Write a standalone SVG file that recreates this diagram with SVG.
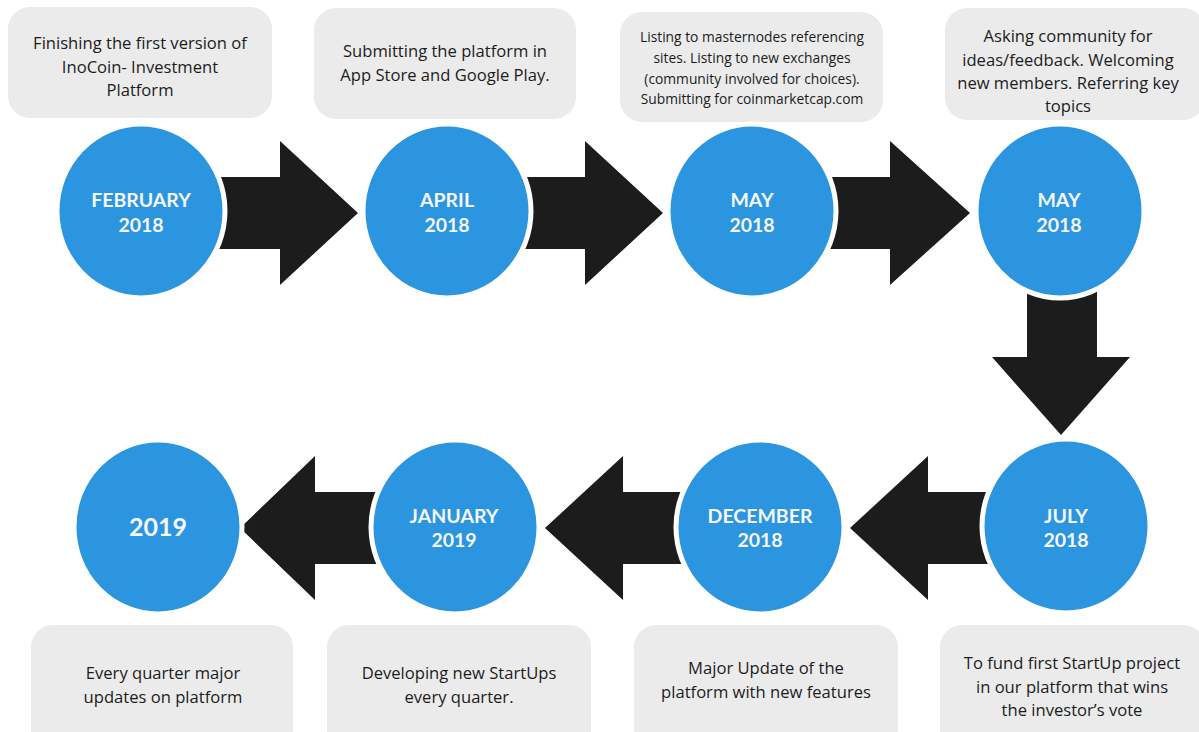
<svg xmlns="http://www.w3.org/2000/svg" width="1199" height="732" viewBox="0 0 1199 732">
  <style>
    .box { fill: #ebebeb; }
    .bt { font-family: "Open Sans", "Noto Sans", sans-serif; font-size: 16.6px; fill: #1c1c1c; text-anchor: middle; }
    .bs { font-size: 13.8px; }
    .circ { fill: #2b95e0; stroke: #ffffff; stroke-width: 5; }
    .ct { font-family: Lato, "Open Sans", sans-serif; font-weight: 700; font-size: 19.5px; fill: #f5f7fa; text-anchor: middle; }
    .arr { fill: #1c1c1c; }
  </style>
  <rect width="1199" height="732" fill="#ffffff"/>

  <g id="connectors">
    <polygon class="arr" points="200,177 280,177 280,141 358,213 280,285 280,249 200,249"/>
    <polygon class="arr" points="505,177 585,177 585,141 663,213 585,285 585,249 505,249"/>
    <polygon class="arr" points="812,177 890,177 890,141 970,213 890,285 890,249 812,249"/>
    <polygon class="arr" points="1027,270 1097,270 1097,357 1130,357 1061,435 992,357 1027,357"/>
    <polygon class="arr" points="1000,492 928,492 928,456 850,528 928,600 928,564 1000,564"/>
    <polygon class="arr" points="700,492 623,492 623,456 545,528 623,600 623,564 700,564"/>
    <polygon class="arr" points="395,492 315,492 315,456 240,528 315,600 315,564 395,564"/>
  </g>

  <g id="box-feb">
    <rect class="box" x="8" y="7" width="264" height="111" rx="22"/>
    <text class="bt" x="140" y="49">Finishing the first version of</text>
    <text class="bt" x="140" y="73">InoCoin- Investment</text>
    <text class="bt" x="140" y="96">Platform</text>
  </g>
  <g id="box-apr">
    <rect class="box" x="314" y="8" width="262" height="111" rx="22"/>
    <text class="bt" x="445" y="57">Submitting the platform in</text>
    <text class="bt" x="445" y="81">App Store and Google Play.</text>
  </g>
  <g id="box-may1">
    <rect class="box" x="620" y="12" width="263" height="110" rx="22"/>
    <text class="bt bs" x="752" y="42">Listing to masternodes referencing</text>
    <text class="bt bs" x="752" y="63">sites. Listing to new exchanges</text>
    <text class="bt bs" x="752" y="84">(community involved for choices).</text>
    <text class="bt bs" x="752" y="104">Submitting for coinmarketcap.com</text>
  </g>
  <g id="box-may2">
    <rect class="box" x="945" y="8" width="260" height="112" rx="22"/>
    <text class="bt" x="1068" y="42">Asking community for</text>
    <text class="bt" x="1068" y="66">ideas/feedback. Welcoming</text>
    <text class="bt" x="1068" y="89">new members. Referring key</text>
    <text class="bt" x="1068" y="112">topics</text>
  </g>

  <g id="node-feb">
    <ellipse class="circ" cx="141" cy="211" rx="84" ry="87"/>
    <text class="ct" x="141" y="207">FEBRUARY</text>
    <text class="ct" x="141" y="232">2018</text>
  </g>
  <g id="node-apr">
    <ellipse class="circ" cx="447" cy="211" rx="84" ry="87"/>
    <text class="ct" x="447" y="207">APRIL</text>
    <text class="ct" x="447" y="232">2018</text>
  </g>
  <g id="node-may1">
    <ellipse class="circ" cx="752" cy="211" rx="84" ry="87"/>
    <text class="ct" x="752" y="207">MAY</text>
    <text class="ct" x="752" y="232">2018</text>
  </g>
  <g id="node-may2">
    <ellipse class="circ" cx="1060" cy="211" rx="84" ry="87"/>
    <text class="ct" x="1059" y="207">MAY</text>
    <text class="ct" x="1059" y="232">2018</text>
  </g>

  <g id="node-jul">
    <ellipse class="circ" cx="1066" cy="526" rx="84" ry="87"/>
    <text class="ct" x="1066" y="523">JULY</text>
    <text class="ct" x="1066" y="547">2018</text>
  </g>
  <g id="node-dec">
    <ellipse class="circ" cx="760" cy="527" rx="84" ry="87"/>
    <text class="ct" x="760" y="523">DECEMBER</text>
    <text class="ct" x="760" y="547">2018</text>
  </g>
  <g id="node-jan">
    <ellipse class="circ" cx="455" cy="527" rx="84" ry="87"/>
    <text class="ct" x="454" y="523">JANUARY</text>
    <text class="ct" x="454" y="547">2019</text>
  </g>
  <g id="node-2019">
    <ellipse class="circ" cx="158" cy="527" rx="84" ry="87"/>
    <text class="ct" x="158" y="536" style="font-size:25px">2019</text>
  </g>

  <g id="box-jul">
    <rect class="box" x="940" y="625" width="265" height="130" rx="22"/>
    <text class="bt" x="1072" y="669">To fund first StartUp project</text>
    <text class="bt" x="1072" y="693">in our platform that wins</text>
    <text class="bt" x="1072" y="716">the investor’s vote</text>
  </g>
  <g id="box-dec">
    <rect class="box" x="634" y="625" width="264" height="130" rx="22"/>
    <text class="bt" x="766" y="674">Major Update of the</text>
    <text class="bt" x="766" y="698">platform with new features</text>
  </g>
  <g id="box-jan">
    <rect class="box" x="327" y="625" width="264" height="130" rx="22"/>
    <text class="bt" x="459" y="679">Developing new StartUps</text>
    <text class="bt" x="459" y="703">every quarter.</text>
  </g>
  <g id="box-2019">
    <rect class="box" x="31" y="625" width="262" height="130" rx="22"/>
    <text class="bt" x="163" y="679">Every quarter major</text>
    <text class="bt" x="163" y="703">updates on platform</text>
  </g>
</svg>
